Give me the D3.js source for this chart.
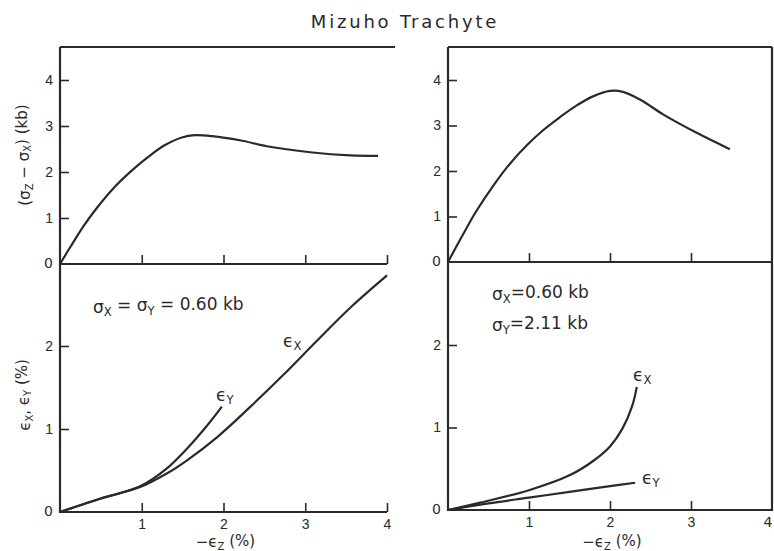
<!DOCTYPE html>
<html>
<head>
<meta charset="utf-8">
<script src="https://cdn.jsdelivr.net/npm/d3@7"></script>
<style>
  body { margin: 0; background: #fff; }
  svg { font-family: "DejaVu Sans", sans-serif; }
  .tick text { font-size: 14px; fill: #2a2a2a; }
  .domain { display: none; }
  .tick line { stroke: #2a2a2a; stroke-width: 1.6px; }
</style>
</head>
<body>
<script>
// values: [-ez %, value]
var stressLeft = [[0,0],[0.13,0.38],[0.29,0.83],[0.46,1.24],[0.66,1.66],[0.87,2.02],[1.08,2.33],[1.28,2.58],[1.49,2.75],[1.65,2.8],[1.86,2.78],[2.2,2.69],[2.53,2.56],[3.06,2.43],[3.55,2.36],[3.89,2.35]];
var stressRight = [[0,0],[0.19,0.62],[0.35,1.12],[0.56,1.68],[0.76,2.15],[0.97,2.56],[1.17,2.89],[1.38,3.18],[1.58,3.43],[1.79,3.64],[2.0,3.76],[2.16,3.74],[2.37,3.57],[2.66,3.24],[3.07,2.84],[3.48,2.48]];
var exLeft = [[0,0],[0.49,0.16],[0.98,0.3],[1.3,0.46],[1.55,0.62],[1.92,0.9],[2.32,1.26],[2.73,1.65],[3.14,2.06],[3.55,2.46],[4.0,2.85]];
var eyLeft = [[0,0],[0.49,0.16],[0.98,0.31],[1.3,0.52],[1.55,0.76],[1.79,1.03],[1.98,1.27]];
var exRight = [[0,0],[0.4,0.09],[1.0,0.24],[1.5,0.42],[1.8,0.6],[2.0,0.77],[2.15,0.98],[2.27,1.25],[2.33,1.49]];
var eyRight = [[0,0],[0.5,0.08],[1.0,0.15],[1.5,0.22],[2.0,0.29],[2.31,0.33]];

var xTicks = [1, 2, 3, 4];
var stressTicks = [1, 2, 3, 4];
var strainTicks = [1, 2];

var ink = "#2a2a2a";
var svg = d3.select("body").append("svg").attr("width", 774).attr("height", 551);

// title
svg.append("text").attr("x", 405).attr("y", 28).attr("text-anchor", "middle")
  .style("font-size", "18px").style("letter-spacing", "2.8px").attr("fill", ink)
  .text("Mizuho  Trachyte");

var line = d3.line().curve(d3.curveCatmullRom.alpha(0.5));

function panel(px0, px1, yTop, yMid, yBot0, yBot2, box, topRight) {
  var x = d3.scaleLinear().domain([0, 4]).range([px0, px1]);
  var yS = d3.scaleLinear().domain([0, 4]).range([yMid, 80]);
  var yE = d3.scaleLinear().domain([0, 2]).range([yBot0, yBot2]);
  var g = svg.append("g");

  // frame lines
  g.append("line").attr("x1", px0).attr("x2", px0).attr("y1", yTop).attr("y2", yBot0 + 1)
    .attr("stroke", ink).attr("stroke-width", 2.2);
  g.append("line").attr("x1", px0).attr("x2", topRight).attr("y1", yTop).attr("y2", yTop)
    .attr("stroke", ink).attr("stroke-width", 2);
  g.append("line").attr("x1", px0).attr("x2", px1).attr("y1", yMid).attr("y2", yMid)
    .attr("stroke", ink).attr("stroke-width", 2);
  g.append("line").attr("x1", px0).attr("x2", px1).attr("y1", yBot0).attr("y2", yBot0)
    .attr("stroke", ink).attr("stroke-width", 2);
  if (box) {
    g.append("line").attr("x1", px1).attr("x2", px1).attr("y1", yTop).attr("y2", yBot0 + 1)
      .attr("stroke", ink).attr("stroke-width", 2.2);
  }

  // axes
  var tx = box ? xTicks.slice(0, 3) : xTicks;
  g.append("g").attr("transform", "translate(0," + yMid + ")")
    .call(d3.axisBottom(x).tickValues(tx).tickSize(-9).tickFormat(""));
  g.append("g").attr("transform", "translate(0," + yBot0 + ")")
    .call(d3.axisBottom(x).tickValues(tx).tickSize(-9).tickPadding(7).tickFormat(d3.format("d")));
  if (box) {
    g.append("text").attr("x", px1 - 4).attr("y", yBot0 + 7).attr("dy", "0.71em")
      .attr("text-anchor", "middle").style("font-size", "14px").attr("fill", ink).text("4");
  }
  g.append("g").attr("transform", "translate(" + px0 + ",0)")
    .call(d3.axisLeft(yS).tickValues(stressTicks).tickSize(-9).tickPadding(7).tickFormat(d3.format("d")));
  g.append("g").attr("transform", "translate(" + px0 + ",0)")
    .call(d3.axisLeft(yE).tickValues(strainTicks).tickSize(-9).tickPadding(7).tickFormat(d3.format("d")));
  // zero labels
  [yMid, yBot0].forEach(function(yy) {
    g.append("text").attr("x", px0 - 7).attr("y", yy).attr("dy", "0.32em")
      .attr("text-anchor", "end").style("font-size", "14px").attr("fill", ink).text("0");
  });

  // x title
  var xt = g.append("text").attr("x", x(2) + 2).attr("y", 547).attr("text-anchor", "middle")
    .style("font-size", "15px").attr("fill", ink);
  xt.append("tspan").text("\u2212\u03F5");
  xt.append("tspan").text("Z").attr("dy", "0.25em").style("font-size", "10px");
  xt.append("tspan").text(" (%)").attr("dy", "-0.25em");

  return { x: x, yS: yS, yE: yE, g: g };
}

var L = panel(60, 387, 47, 264, 512, 346, false, 395);
var R = panel(448, 772, 47, 262, 510, 345, true, 772);

function curve(p, data, y) {
  p.g.append("path").datum(data)
    .attr("d", line.x(function(d) { return p.x(d[0]); }).y(function(d) { return y(d[1]); }))
    .attr("fill", "none").attr("stroke", ink).attr("stroke-width", 2.2);
}
curve(L, stressLeft, L.yS);
curve(R, stressRight, R.yS);
curve(L, exLeft, L.yE);
curve(L, eyLeft, L.yE);
curve(R, exRight, R.yE);
curve(R, eyRight, R.yE);

// y titles
var yt1 = svg.append("text").attr("transform", "translate(30,155) rotate(-90)")
  .attr("text-anchor", "middle").style("font-size", "15px").attr("fill", ink);
yt1.append("tspan").text("(\u03C3");
yt1.append("tspan").text("Z").attr("dy", "0.28em").style("font-size", "10px");
yt1.append("tspan").text(" \u2212 \u03C3").attr("dy", "-0.28em");
yt1.append("tspan").text("X").attr("dy", "0.28em").style("font-size", "10px");
yt1.append("tspan").text(") (kb)").attr("dy", "-0.28em");

var yt2 = svg.append("text").attr("transform", "translate(30,395) rotate(-90)")
  .attr("text-anchor", "middle").style("font-size", "15px").attr("fill", ink);
yt2.append("tspan").text("\u03F5");
yt2.append("tspan").text("X").attr("dy", "0.28em").style("font-size", "10px");
yt2.append("tspan").text(", \u03F5").attr("dy", "-0.28em");
yt2.append("tspan").text("Y").attr("dy", "0.28em").style("font-size", "10px");
yt2.append("tspan").text(" (%)").attr("dy", "-0.28em");

// annotations
function label(x, y, parts, size) {
  var t = svg.append("text").attr("x", x).attr("y", y).style("font-size", size + "px").attr("fill", ink);
  parts.forEach(function(p, i) {
    var s = t.append("tspan").text(p[0]);
    if (p[1]) s.attr("dy", "0.3em").style("font-size", (size * 0.68) + "px");
    else if (i > 0 && parts[i - 1][1]) s.attr("dy", "-0.3em");
  });
}
label(93, 313, [["\u03C3"], ["X", 1], [" = \u03C3"], ["Y", 1], [" = 0.60 kb"]], 17);
label(492, 300, [["\u03C3"], ["X", 1], ["=0.60 kb"]], 17);
label(492, 331, [["\u03C3"], ["Y", 1], ["=2.11 kb"]], 17);

label(283, 347, [["\u03F5"], ["X", 1]], 17);
label(216, 401, [["\u03F5"], ["Y", 1]], 17);
label(633, 381, [["\u03F5"], ["X", 1]], 17);
label(642, 484, [["\u03F5"], ["Y", 1]], 17);
</script>
</body>
</html>
